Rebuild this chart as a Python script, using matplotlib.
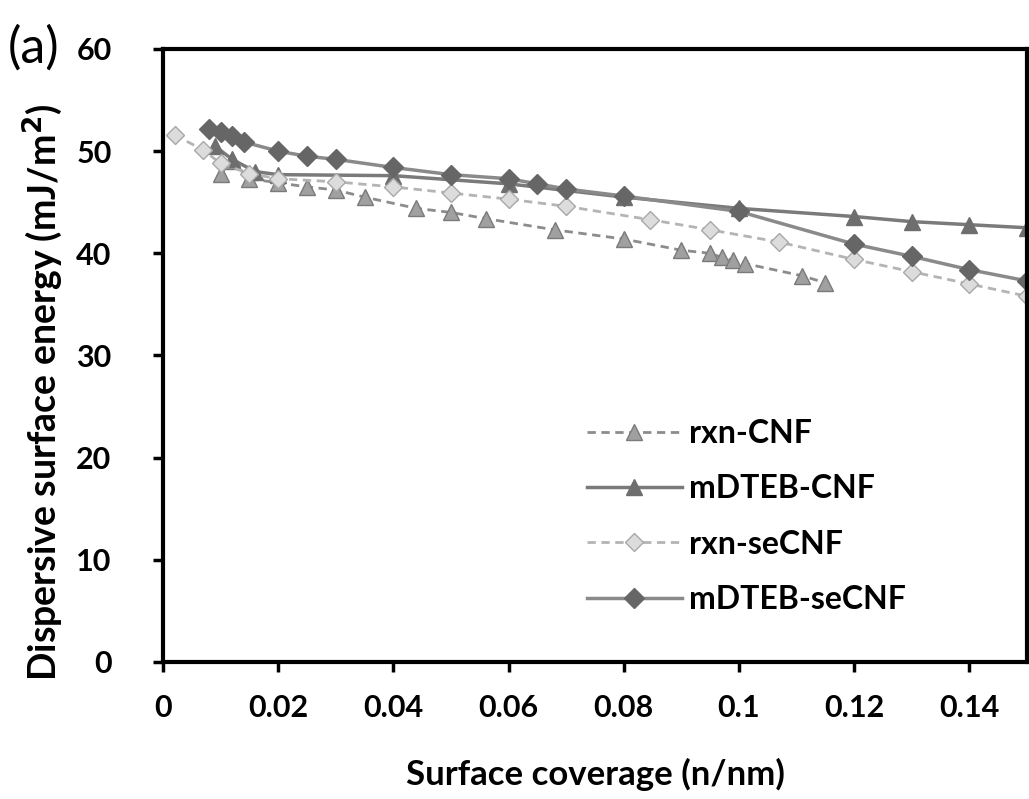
import matplotlib
matplotlib.use("Agg")
import matplotlib.pyplot as plt

plt.rcParams['font.family'] = ['Lato', 'DejaVu Sans']

# data
rxn_cnf_x = [0.010, 0.012, 0.015, 0.020, 0.025, 0.030, 0.035, 0.044, 0.050, 0.056, 0.068,
             0.080, 0.090, 0.095, 0.097, 0.099, 0.101, 0.111, 0.115]
rxn_cnf_y = [47.8, 49.0, 47.3, 46.9, 46.5, 46.2, 45.5, 44.4, 44.0, 43.4, 42.3,
             41.4, 40.3, 40.0, 39.6, 39.3, 39.0, 37.8, 37.1]

mdteb_cnf_x = [0.009, 0.012, 0.016, 0.020, 0.040, 0.060, 0.080, 0.100, 0.120, 0.130, 0.140, 0.150]
mdteb_cnf_y = [50.5, 49.2, 48.0, 47.7, 47.6, 46.8, 45.5, 44.4, 43.6, 43.1, 42.8, 42.5]

rxn_secnf_x = [0.002, 0.007, 0.010, 0.015, 0.020, 0.030, 0.040, 0.050, 0.060, 0.070,
               0.0845, 0.095, 0.107, 0.120, 0.130, 0.140, 0.150]
rxn_secnf_y = [51.6, 50.1, 48.8, 47.8, 47.3, 47.0, 46.5, 45.9, 45.3, 44.6,
               43.3, 42.3, 41.1, 39.4, 38.2, 37.0, 35.8]

mdteb_secnf_x = [0.008, 0.010, 0.012, 0.014, 0.020, 0.025, 0.030, 0.040, 0.050, 0.060,
                 0.065, 0.070, 0.080, 0.100, 0.120, 0.130, 0.140, 0.150]
mdteb_secnf_y = [52.2, 51.9, 51.5, 50.9, 50.0, 49.5, 49.2, 48.4, 47.7, 47.3,
                 46.8, 46.3, 45.6, 44.1, 40.9, 39.7, 38.4, 37.3]

x_ticks = [0, 0.02, 0.04, 0.06, 0.08, 0.10, 0.12, 0.14]
x_tick_labels = ['0', '0.02', '0.04', '0.06', '0.08', '0.1', '0.12', '0.14']
y_ticks = [0, 10, 20, 30, 40, 50, 60]

fig = plt.figure(figsize=(10.29, 7.99), dpi=100)
ax = fig.add_axes([0.1584, 0.1715, 0.8396, 0.7672])

ax.plot(rxn_cnf_x, rxn_cnf_y, linestyle=(0, (3, 2)), color='#8c8c8c', lw=2,
        marker='^', ms=11, mfc='#a0a0a0', mec='#7a7a7a', label='rxn-CNF')
ax.plot(mdteb_cnf_x, mdteb_cnf_y, linestyle='-', color='#7a7a7a', lw=2.5,
        marker='^', ms=11, mfc='#6e6e6e', mec='#6e6e6e', label='mDTEB-CNF')
ax.plot(rxn_secnf_x, rxn_secnf_y, linestyle=(0, (3, 2)), color='#b4b4b4', lw=2,
        marker='D', ms=9, mfc='#dcdcdc', mec='#a8a8a8', label='rxn-seCNF')
ax.plot(mdteb_secnf_x, mdteb_secnf_y, linestyle='-', color='#8a8a8a', lw=2.5,
        marker='D', ms=10, mfc='#666666', mec='#666666', label='mDTEB-seCNF')

ax.set_xlim(0, 0.15)
ax.set_ylim(0, 60)
ax.set_xticks(x_ticks)
ax.set_xticklabels(x_tick_labels)
ax.set_yticks(y_ticks)

for s in ax.spines.values():
    s.set_linewidth(3)
ax.tick_params(direction='out', length=7, width=2.5, labelsize=22)
ax.tick_params(axis='x', pad=16)
ax.tick_params(axis='y', pad=30)
for lbl in ax.get_xticklabels() + ax.get_yticklabels():
    lbl.set_fontweight('bold')

ax.set_xlabel('Surface coverage (n/nm)', fontsize=25, fontweight='bold', labelpad=26)
ax.set_ylabel('Dispersive surface energy (mJ/m$^\\mathbf{2}$)', fontsize=27,
              fontweight='bold', labelpad=8, y=0.44)

fig.text(0.008, 0.94, '(a)', fontsize=36, ha='left', va='center')

leg = ax.legend(loc='upper left', bbox_to_anchor=(0.457, 0.443), frameon=False,
                prop={'size': 23, 'weight': 'bold'}, handlelength=3.0,
                labelspacing=0.82, handletextpad=0.2)

fig.savefig('out.png', dpi=100)
